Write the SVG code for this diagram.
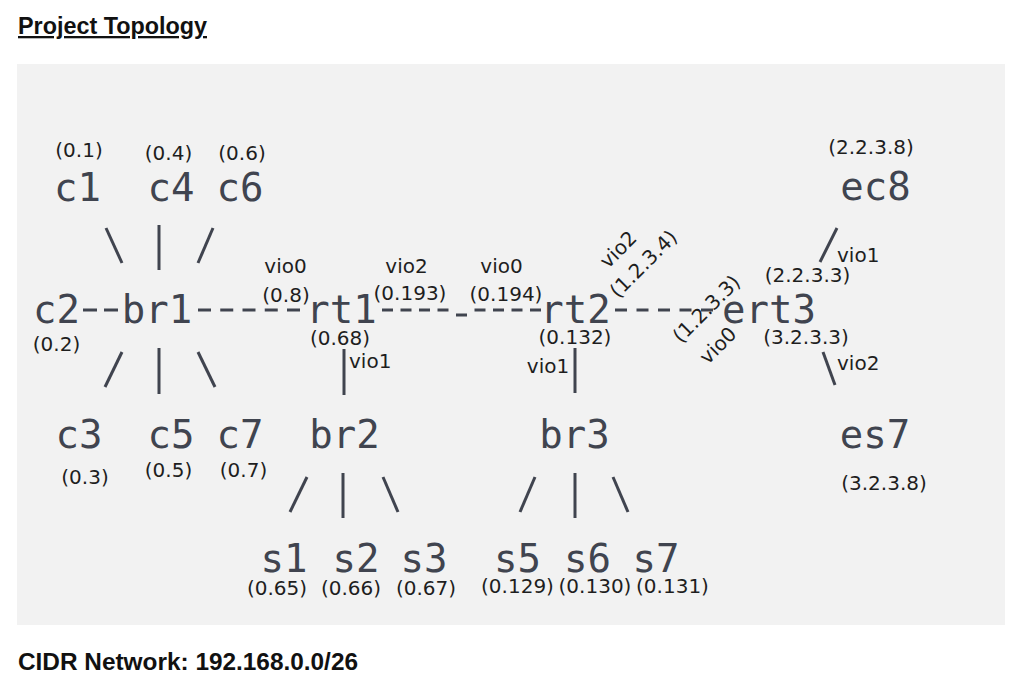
<svg xmlns="http://www.w3.org/2000/svg" width="1027" height="699" viewBox="0 0 1027 699">
<style>
.big{font-family:"DejaVu Sans Mono",monospace;font-size:39px;fill:#40444f;text-anchor:middle}
.lbl{font-family:"DejaVu Sans",sans-serif;font-size:20px;fill:#1e1e1e;text-anchor:middle}
.lbs{font-family:"DejaVu Sans",sans-serif;font-size:20px;fill:#1e1e1e}
.hdr{font-family:"Liberation Sans",Arial,sans-serif;font-weight:bold;fill:#111}
.ln{stroke:#40444f;stroke-width:3;fill:none}
</style>
<rect width="1027" height="699" fill="#ffffff"/>
<text class="hdr" x="18" y="34" font-size="23" text-decoration="underline" textLength="189" lengthAdjust="spacingAndGlyphs">Project Topology</text>
<rect id="panel" x="17" y="64" width="988" height="561" fill="#f2f2f2"/>
<g id="connectors" class="ln">
<line x1="106" y1="228" x2="122" y2="263"/>
<line x1="159" y1="225" x2="159" y2="270"/>
<line x1="213" y1="228" x2="198" y2="263"/>
<line x1="83" y1="310" x2="118" y2="310" stroke-dasharray="14 7"/>
<line x1="198" y1="310" x2="300" y2="310" stroke-dasharray="13 9.25"/>
<line x1="122" y1="352" x2="105" y2="387"/>
<line x1="159" y1="348" x2="159" y2="394"/>
<line x1="198" y1="352" x2="215" y2="387"/>
<line x1="344" y1="349" x2="344" y2="395"/>
<line x1="382" y1="310" x2="448.5" y2="310" stroke-dasharray="11 7.5"/>
<line x1="456" y1="315" x2="467" y2="315"/>
<line x1="474.5" y1="310" x2="541" y2="310" stroke-dasharray="11 7.5"/>
<line x1="575" y1="348" x2="575" y2="393"/>
<line x1="615" y1="310" x2="713" y2="310" stroke-dasharray="12 9.5"/>
<line x1="307" y1="477" x2="290" y2="512"/>
<line x1="343" y1="473" x2="343" y2="518"/>
<line x1="383" y1="477" x2="398" y2="512"/>
<line x1="535" y1="477" x2="520" y2="512"/>
<line x1="575" y1="473" x2="575" y2="518"/>
<line x1="613" y1="477" x2="628" y2="512"/>
<line x1="837" y1="228" x2="820" y2="262"/>
<line x1="823" y1="352" x2="835" y2="385"/>
</g>
<g id="c1"><text class="lbl" x="79" y="157">(0.1)</text><text class="big" x="77.5" y="201">c1</text></g>
<g id="c4"><text class="lbl" x="168.5" y="160">(0.4)</text><text class="big" x="171" y="201">c4</text></g>
<g id="c6"><text class="lbl" x="242" y="160">(0.6)</text><text class="big" x="240" y="201">c6</text></g>
<g id="c2"><text class="big" x="56.5" y="323">c2</text><text class="lbl" x="56.5" y="351">(0.2)</text></g>
<g id="br1"><text class="big" x="157" y="323">br1</text></g>
<g id="c3"><text class="big" x="79" y="448">c3</text><text class="lbl" x="85" y="484">(0.3)</text></g>
<g id="c5"><text class="big" x="171" y="448">c5</text><text class="lbl" x="168.5" y="477">(0.5)</text></g>
<g id="c7"><text class="big" x="240" y="448">c7</text><text class="lbl" x="243.5" y="477">(0.7)</text></g>
<g id="rt1">
<text class="big" x="341.5" y="323">rt1</text>
<text class="lbl" x="285.5" y="273">vio0</text><text class="lbl" x="286" y="302">(0.8)</text>
<text class="lbl" x="406.5" y="273">vio2</text><text class="lbl" x="410" y="300">(0.193)</text>
<text class="lbl" x="340" y="345">(0.68)</text><text class="lbs" x="349" y="368">vio1</text>
</g>
<g id="rt2">
<text class="big" x="575.5" y="323">rt2</text>
<text class="lbl" x="501.5" y="273">vio0</text><text class="lbl" x="506" y="301">(0.194)</text>
<text class="lbl" x="575" y="344">(0.132)</text><text class="lbl" x="548" y="373">vio1</text>
<g transform="translate(618,299) rotate(-45)"><text class="lbs" x="14" y="-28">vio2</text><text class="lbs" x="0" y="0">(1.2.3.4)</text></g>
</g>
<g id="ert3">
<text class="big" x="769" y="323">ert3</text>
<g transform="translate(681,344) rotate(-45)"><text class="lbs" x="0" y="0">(1.2.3.3)</text><text class="lbs" x="4" y="34">vio0</text></g>
<text class="lbs" x="837" y="262">vio1</text><text class="lbl" x="807.5" y="282">(2.2.3.3)</text>
<text class="lbl" x="806" y="344">(3.2.3.3)</text><text class="lbs" x="837" y="370">vio2</text>
</g>
<g id="ec8"><text class="lbl" x="871" y="154">(2.2.3.8)</text><text class="big" x="875.5" y="200">ec8</text></g>
<g id="es7"><text class="big" x="875" y="448">es7</text><text class="lbl" x="884" y="490">(3.2.3.8)</text></g>
<g id="br2"><text class="big" x="344.5" y="448">br2</text></g>
<g id="br3"><text class="big" x="574.5" y="448">br3</text></g>
<g id="s1"><text class="big" x="284" y="572">s1</text><text class="lbl" x="277" y="595">(0.65)</text></g>
<g id="s2"><text class="big" x="356" y="572">s2</text><text class="lbl" x="351" y="595">(0.66)</text></g>
<g id="s3"><text class="big" x="424" y="572">s3</text><text class="lbl" x="426" y="595">(0.67)</text></g>
<g id="s5"><text class="big" x="517.5" y="572">s5</text><text class="lbl" x="517.5" y="593">(0.129)</text></g>
<g id="s6"><text class="big" x="587.5" y="572">s6</text><text class="lbl" x="595" y="593">(0.130)</text></g>
<g id="s7"><text class="big" x="656" y="572">s7</text><text class="lbl" x="672.5" y="593">(0.131)</text></g>
<text class="hdr" x="18" y="670" font-size="24" textLength="340" lengthAdjust="spacingAndGlyphs">CIDR Network: 192.168.0.0/26</text>
</svg>
